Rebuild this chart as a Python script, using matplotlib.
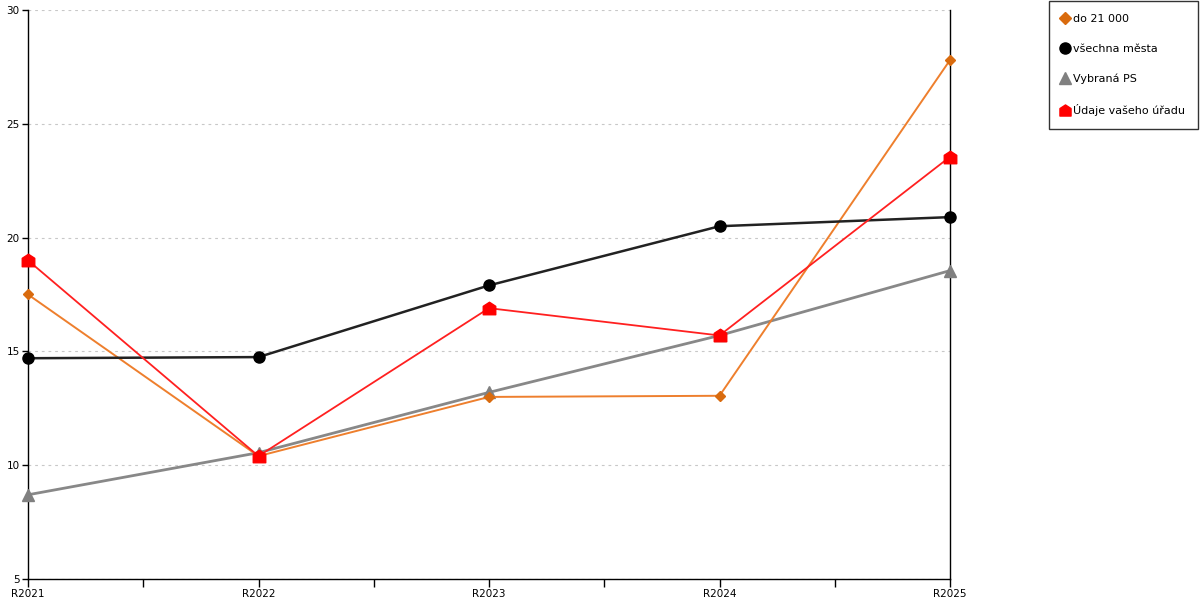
import matplotlib
matplotlib.use("Agg")
from matplotlib import pyplot as plt
from matplotlib.lines import Line2D
from matplotlib.path import Path
import numpy as np

years = ["R2021", "R2022", "R2023", "R2024", "R2025"]
do_21000 = [17.5, 10.4, 13.0, 13.05, 27.8]
vsechna_mesta = [14.7, 14.75, 17.9, 20.5, 20.9]
vybrana_ps = [8.7, 10.55, 13.2, 15.7, 18.55]
vas_urad = [19.0, 10.4, 16.9, 15.7, 23.55]

# house-shaped marker for the office series
house = Path([(-1, -1), (1, -1), (1, 0.35), (0, 1), (-1, 0.35), (-1, -1)],
             [Path.MOVETO, Path.LINETO, Path.LINETO, Path.LINETO, Path.LINETO, Path.CLOSEPOLY])

plt.rcParams["font.family"] = ["DejaVu Sans"]
plt.rcParams["font.size"] = 7.5

fig = plt.figure(figsize=(12, 6), dpi=100)
ax = fig.add_axes([28 / 1200, 1 - 579 / 600, (950 - 28) / 1200, (579 - 10) / 600])

x = np.arange(len(years))
ax.plot(x, vybrana_ps, color="#888888", lw=2, marker="^", ms=8, mfc="#808080", mec="#808080",
        zorder=3, clip_on=False)
ax.plot(x, do_21000, color="#EE7F2D", lw=1.4, marker="D", ms=5.5, mfc="#D96B0E", mec="#D96B0E",
        zorder=4, clip_on=False)
ax.plot(x, vsechna_mesta, color="#222222", lw=1.8, marker="o", ms=8, mfc="black", mec="black",
        zorder=5, clip_on=False)
ax.plot(x, vas_urad, color="#FF2020", lw=1.3, marker=house, ms=9, mfc="#FF0000", mec="#FF0000",
        zorder=6, clip_on=False)

ax.set_xlim(0, len(years) - 1)
ax.set_ylim(5, 30)
ax.set_yticks([5, 10, 15, 20, 25, 30])
ax.set_xticks(x)
ax.set_xticklabels(years)
ax.set_xticks(x[:-1] + 0.5, minor=True)
ax.tick_params(axis="x", which="both", direction="out", length=6, width=1, pad=1)
ax.tick_params(axis="y", direction="out", length=4, width=1, pad=2)
ax.yaxis.grid(True, linestyle=(0, (2.5, 3.5)), color="#C8C8C8", lw=0.8)
ax.set_axisbelow(True)
ax.spines["top"].set_visible(False)
for s in ["left", "bottom", "right"]:
    ax.spines[s].set_color("black")
    ax.spines[s].set_linewidth(1)

handles = [
    Line2D([], [], ls="none", marker="D", ms=6, mfc="#D96B0E", mec="#D96B0E"),
    Line2D([], [], ls="none", marker="o", ms=8, mfc="black", mec="black"),
    Line2D([], [], ls="none", marker="^", ms=8, mfc="#808080", mec="#808080"),
    Line2D([], [], ls="none", marker=house, ms=8, mfc="#FF0000", mec="#FF0000"),
]
labels = ["do 21 000", "všechna města", "Vybraná PS", "Údaje vašeho úřadu"]
leg = fig.legend(handles, labels, loc="upper right", bbox_to_anchor=(1198 / 1200, 1 - 1 / 600),
                 frameon=True, fancybox=False, edgecolor="black", fontsize=8,
                 handlelength=0.6, handletextpad=0.45, labelspacing=1.8, borderpad=1.15,
                 borderaxespad=0)
leg.get_frame().set_linewidth(1)

fig.savefig("out.png", dpi=100)
